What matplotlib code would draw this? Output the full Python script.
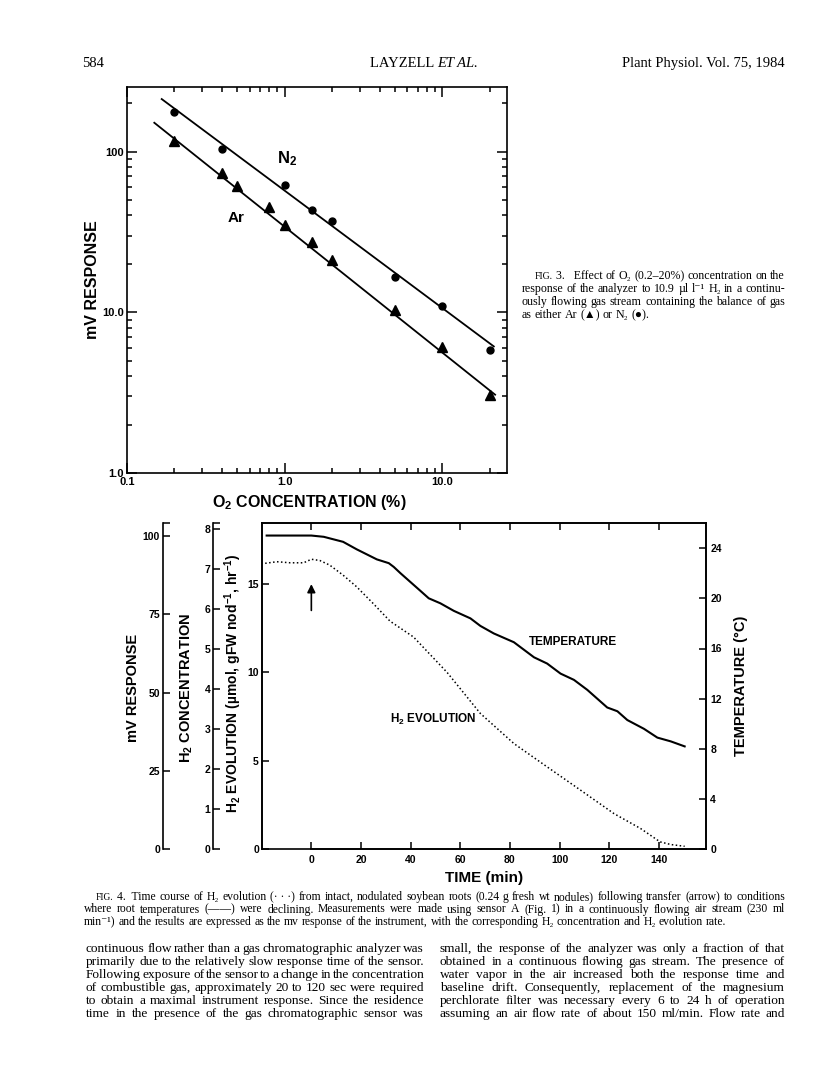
import matplotlib
matplotlib.use('Agg')
import matplotlib.pyplot as plt
import matplotlib.ticker as ticker

# ---- Fig. 3 data: O2 concentration (%) vs mV response ----
n2_x = [0.2, 0.4, 1.0, 1.5, 2.0, 5.0, 10.0, 20.0]
n2_y = [176, 104, 61.6, 43.1, 37.2, 16.6, 11.0, 5.8]
ar_x = [0.2, 0.4, 0.5, 0.8, 1.0, 1.5, 2.0, 5.0, 10.0, 20.0]
ar_y = [117, 73.6, 60.8, 45.0, 35.1, 27.2, 21.0, 10.4, 6.05, 3.07]
n2_fit_x = [0.166, 21.2]
n2_fit_y = [212, 6.13]
ar_fit_x = [0.149, 21.6]
ar_fit_y = [151, 3.07]

# ---- Fig. 4 data: time course ----
temp_t = [-18, 0, 5, 12.8, 18.3, 26.4, 31.2, 33.2, 35.9, 39.9, 43.9, 47.3, 52, 57.4,
          64.1, 68.1, 73.5, 81.6, 89.7, 95.0, 100.4, 105.8, 111.2, 115.2, 119.2,
          123.3, 127.3, 134.0, 139.4, 144.8, 150.4]
temp_c = [25.0, 25.0, 24.9, 24.5, 23.9, 23.1, 22.8, 22.5, 22.0, 21.3, 20.6, 20.0, 19.6, 19.0,
          18.4, 17.8, 17.2, 16.5, 15.3, 14.8, 14.0, 13.5, 12.7, 12.0, 11.3,
          11.0, 10.3, 9.6, 8.9, 8.6, 8.2]
h2_t = [-18.6, -13.9, -8.5, -3.1, 0, 3.4, 7.4, 12.8, 18.2, 24.9, 31.7, 41.2, 54.7, 68.1,
        81.6, 95.0, 108.5, 121.9, 132.7, 140.5, 144.8, 150.4]
h2_v = [16.17, 16.26, 16.2, 16.2, 16.4, 16.33, 16.07, 15.5, 14.85, 13.9, 12.9, 12.0, 10.0, 7.68,
        5.98, 4.66, 3.34, 2.02, 1.17, 0.42, 0.27, 0.17]
time_ticks = [0, 20, 40, 60, 80, 100, 120, 140]
evol_ticks = [0, 5, 10, 15]
temp_ticks = [0, 4, 8, 12, 16, 20, 24]
mv_ticks = [0, 25, 50, 75, 100]
conc_ticks = [0, 1, 2, 3, 4, 5, 6, 7, 8]

plt.rcParams['font.family'] = ['Liberation Sans', 'DejaVu Sans']
plt.rcParams['font.weight'] = 'bold'
plt.rcParams['axes.labelweight'] = 'bold'
plt.rcParams['mathtext.fontset'] = 'custom'
plt.rcParams['mathtext.rm'] = 'Liberation Sans:bold'
plt.rcParams['mathtext.it'] = 'Liberation Sans:italic:bold'
plt.rcParams['mathtext.bf'] = 'Liberation Sans:bold'
plt.rcParams['mathtext.default'] = 'rm'
plt.rcParams['axes.linewidth'] = 1.2

W, H = 816, 1073
SERIF = ['Liberation Serif', 'DejaVu Serif']
fig = plt.figure(figsize=(W / 100, H / 100), dpi=100)


def box(l, t, r, b):
    return [l / W, 1 - b / H, (r - l) / W, (b - t) / H]


# ================= Fig. 3 =================
ax = fig.add_axes(box(127, 87, 507, 473))
ax.set_xscale('log')
ax.set_yscale('log')
ax.set_xlim(0.1, 25.7)
ax.set_ylim(1, 252)
ax.plot(n2_fit_x, n2_fit_y, color='black', lw=1.3)
ax.plot(ar_fit_x, ar_fit_y, color='black', lw=1.3)
ax.plot(n2_x, n2_y, 'o', color='black', ms=5)
ax.plot(ar_x, ar_y, '^', color='black', ms=6.5)
ax.set_xticks([0.1, 1, 10])
ax.set_xticklabels(['0.1', '1.0', '10.0'])
ax.set_yticks([1, 10, 100])
ax.set_yticklabels(['1.0', '10.0', '100'])
ax.xaxis.set_minor_locator(ticker.LogLocator(subs=range(2, 10)))
ax.yaxis.set_minor_locator(ticker.LogLocator(subs=range(2, 10)))
ax.xaxis.set_minor_formatter(ticker.NullFormatter())
ax.yaxis.set_minor_formatter(ticker.NullFormatter())
ax.tick_params(which='both', direction='in', top=True, right=True, width=1.1, labelsize=8)
ax.tick_params(which='major', length=7)
ax.tick_params(which='minor', length=3.5)
ax.tick_params(axis='y', pad=2)
ax.tick_params(axis='x', pad=3)
ax.set_xlabel('O$_2$ CONCENTRATION (%)', fontsize=11.5)
ax.xaxis.set_label_coords(0.48, -0.052)
ax.set_ylabel('mV RESPONSE', fontsize=11.5)
ax.yaxis.set_label_coords(-0.072, 0.5)
ax.text(0.42, 0.815, 'N$_2$', transform=ax.transAxes, fontsize=12, ha='center', va='center')
ax.text(0.287, 0.66, 'Ar', transform=ax.transAxes, fontsize=11, ha='center', va='center')

# ================= Fig. 4 =================
L4, T4, R4, B4 = 261.7, 523, 706, 849.3
ax4 = fig.add_axes(box(L4, T4, R4, B4))
ax4.set_xlim(-20, 159)
ax4.set_ylim(0, 18.45)
ax4.plot(h2_t, h2_v, color='black', lw=1.1, linestyle=(0, (1, 1.6)))
ax4.spines['bottom'].set_bounds(0, 159)
ax4.set_xticks(time_ticks)
ax4.set_yticks(evol_ticks)
ax4.tick_params(direction='in', top=True, length=5, width=1.1, labelsize=7.5)
ax4.tick_params(axis='x', pad=4)
ax4.tick_params(axis='y', pad=2)
ax4.set_xlabel('TIME (min)', fontsize=11)
ax4.xaxis.set_label_coords(0.5, -0.068)
ax4.set_ylabel('H$_2$ EVOLUTION (µmol, gFW nod$^{-1}$, hr$^{-1}$)', fontsize=10)
ax4.yaxis.set_label_coords(-0.04, 0.51)
ax4.annotate('', xy=(0, 15.15), xytext=(0, 13.35),
             arrowprops=dict(arrowstyle='-|>', color='black', lw=1.2, mutation_scale=12))
ax4.text(0.70, 0.636, 'TEMPERATURE', transform=ax4.transAxes, fontsize=8.5, ha='center', va='center')
ax4.text(0.386, 0.398, 'H$_2$ EVOLUTION', transform=ax4.transAxes, fontsize=8.5, ha='center', va='center')

ax4t = ax4.twinx()
ax4t.set_ylim(0, 26.0)
ax4t.plot(temp_t, temp_c, color='black', lw=1.5)
ax4t.set_yticks(temp_ticks)
ax4t.tick_params(direction='in', length=5, width=1.1, labelsize=7.5, pad=3)
ax4t.set_ylabel('TEMPERATURE (°C)', fontsize=10.5)
ax4t.yaxis.set_label_coords(1.062, 0.5)


def side_axis(xpix, top, ticks, label, label_x):
    a = fig.add_axes(box(xpix, T4, xpix + 1, B4))
    a.set_ylim(0, top)
    for s in ['top', 'right', 'bottom']:
        a.spines[s].set_visible(False)
    a.patch.set_visible(False)
    a.set_xticks([])
    a.set_yticks(ticks)
    a.set_yticks([top], minor=True)
    a.tick_params(axis='y', which='both', direction='in', length=5, width=1.1, labelsize=7.5, pad=2)
    fig.text(label_x / W, 1 - 688 / H, label, rotation=90, ha='center', va='center', fontsize=10.5)
    return a


side_axis(162.7, 104.2, mv_ticks, 'mV RESPONSE', 133)
side_axis(213.3, 8.14, conc_ticks, 'H$_2$ CONCENTRATION', 187)

# ================= page text =================
rend = fig.canvas.get_renderer()


def put_line(line, x0, x1, y, size, justify=True):
    words = line.split(' ')
    ts = []
    for w in words:
        s = size * 0.82 if w.startswith('FIG.') else size
        fam = 'Liberation Serif' if w.isascii() else SERIF
        ts.append(fig.text(0, 0, w, fontsize=s, family=fam, weight='normal', va='baseline'))
    ws = [t.get_window_extent(rend).width for t in ts]
    if justify and len(words) > 1:
        gap = (x1 - x0 - sum(ws)) / (len(words) - 1)
    else:
        gap = size * 100 / 72 * 0.25
    x = x0
    for t, w in zip(ts, ws):
        t.set_position((x / W, 1 - y / H))
        x += w + gap


def block(lines, x0, x1, y0, dy, size, indent=0, last_ragged=True):
    for i, ln in enumerate(lines):
        put_line(ln, x0 + (indent if i == 0 else 0), x1, y0 + i * dy, size,
                 justify=not (last_ragged and i == len(lines) - 1))


# header
fig.text(82 / W, 1 - 67 / H, '584', fontsize=10.5, family=SERIF, weight='normal')
fig.text(437 / W, 1 - 67 / H, 'LAYZELL ', fontsize=10.5, family=SERIF, weight='normal', ha='right')
fig.text(437 / W, 1 - 67 / H, 'ET AL.', fontsize=10.5, family=SERIF, weight='normal', style='italic')
fig.text(785 / W, 1 - 67 / H, 'Plant Physiol. Vol. 75, 1984', fontsize=10.5, family=SERIF,
         weight='normal', ha='right')

fig3_cap = [
    'FIG. 3.\u00a0\u00a0\u00a0Effect of O₂ (0.2–20%) concentration on the',
    'response of the analyzer to 10.9 µl l⁻¹ H₂ in a continu-',
    'ously flowing gas stream containing the balance of gas',
    'as either Ar (▲) or N₂ (●).',
]
block(fig3_cap, 521.7, 785, 279, 13, 8.6, indent=13)

fig4_cap = [
    'FIG. 4.\u00a0\u00a0Time course of H₂ evolution (·\u00a0·\u00a0·) from intact, nodulated soybean roots '
    '(0.24 g fresh wt nodules) following transfer (arrow) to conditions',
    'where root temperatures (——) were declining. Measurements were made using sensor A '
    '(Fig. 1) in a continuously flowing air stream (230 ml',
    'min⁻¹) and the results are expressed as the mv response of the instrument, with the '
    'corresponding H₂ concentration and H₂ evolution rate.',
]
block(fig4_cap, 84, 785, 900, 12.5, 8.4, indent=12)

left_col = [
    'continuous flow rather than a gas chromatographic analyzer was',
    'primarily due to the relatively slow response time of the sensor.',
    'Following exposure of the sensor to a change in the concentration',
    'of combustible gas, approximately 20 to 120 sec were required',
    'to obtain a maximal instrument response. Since the residence',
    'time in the presence of the gas chromatographic sensor was',
]
right_col = [
    'small, the response of the analyzer was only a fraction of that',
    'obtained in a continuous flowing gas stream. The presence of',
    'water vapor in the air increased both the response time and',
    'baseline drift. Consequently, replacement of the magnesium',
    'perchlorate filter was necessary every 6 to 24 h of operation',
    'assuming an air flow rate of about 150 ml/min. Flow rate and',
]
block(left_col, 86, 424, 952, 13, 9.6, last_ragged=False)
block(right_col, 440, 785, 952, 13, 9.6, last_ragged=False)

fig.savefig('out.png', dpi=100)
